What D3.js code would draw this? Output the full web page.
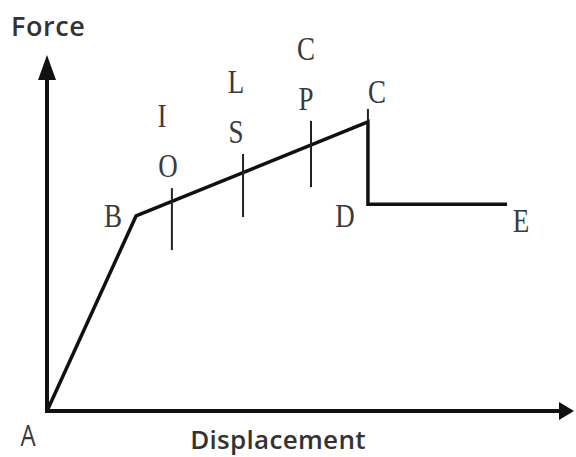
<!DOCTYPE html>
<html><head><meta charset="utf-8">
<script src="https://cdn.jsdelivr.net/npm/d3@7"></script>
<style>body{margin:0;background:#fff}svg{display:block}</style>
</head><body>
<script>
// Curve points (displacement, force) in arbitrary units
const pointNames = ["A", "B", "C", "D", "E"];
const displacement = [0, 16.9, 60.9, 60.9, 87.3];
const force = [0, 54.8, 81.2, 58.1, 58.1];
// performance-level markers on B–C branch
const levelNames = ["IO", "LS", "CP"];
const levelDisp = [23.7, 37.2, 50.1];
const levelTop = [62.6, 72.2, 81.5];
const levelBottom = [45.2, 54.5, 62.9];
const axisLabels = {x: "Displacement", y: "Force"};

const W = 576, H = 457;
const svg = d3.select("body").append("svg").attr("width", W).attr("height", H);
const x = d3.scaleLinear().domain([0, 100]).range([47, 574]);
const y = d3.scaleLinear().domain([0, 100]).range([411, 55]);

// axes with arrows
svg.append("line").attr("x1", x(0)).attr("y1", y(0)).attr("x2", x(0)).attr("y2", y(100) + 20)
  .attr("stroke", "#111").attr("stroke-width", 4);
svg.append("line").attr("x1", x(0) - 2).attr("y1", y(0)).attr("x2", x(100) - 12).attr("y2", y(0))
  .attr("stroke", "#111").attr("stroke-width", 4);
svg.append("path").attr("d", `M${x(0)},${y(100)} L${x(0)-9},${y(100)+25} L${x(0)+9},${y(100)+25}Z`).attr("fill", "#111");
svg.append("path").attr("d", `M${x(100)},${y(0)} L${x(100)-15},${y(0)-9} L${x(100)-15},${y(0)+9}Z`).attr("fill", "#111");

// curve
const pts = displacement.map((d, i) => [x(d), y(force[i])]);
svg.append("path").attr("d", d3.line()(pts)).attr("fill", "none")
  .attr("stroke", "#111").attr("stroke-width", 3.5).attr("stroke-linejoin", "miter");

// level ticks
levelNames.forEach((n, i) => {
  svg.append("line").attr("x1", x(levelDisp[i])).attr("x2", x(levelDisp[i]))
    .attr("y1", y(levelTop[i])).attr("y2", y(levelBottom[i]))
    .attr("stroke", "#222").attr("stroke-width", 2);
});
// tick at C
svg.append("line").attr("x1", x(displacement[2])).attr("x2", x(displacement[2]))
  .attr("y1", y(force[2]) - 13).attr("y2", y(force[2])).attr("stroke", "#222").attr("stroke-width", 2);

function serifLabel(t, px, py) {
  svg.append("text").attr("transform", `translate(${px},${py}) scale(1,1.25)`)
    .attr("text-anchor", "middle").attr("font-family", "Liberation Serif, Times New Roman, serif")
    .attr("font-size", 27).attr("fill", "#3a3a3a").text(t);
}
// point labels
serifLabel(pointNames[1], pts[1][0] - 23, pts[1][1] + 11);
serifLabel(pointNames[2], pts[2][0] + 9, pts[2][1] - 19);
serifLabel(pointNames[3], pts[3][0] - 23, pts[3][1] + 23);
serifLabel(pointNames[4], pts[4][0] + 14, pts[4][1] + 28);
// level labels stacked
const levelOffsets = [[-10, 0], [-7, 0], [-5, 0]];
levelNames.forEach((n, i) => {
  const tx = x(levelDisp[i]);
  const ty = y(levelTop[i]);
  serifLabel(n[0], tx + levelOffsets[i][0], ty - 61);
  serifLabel(n[1], tx + levelOffsets[i][0] + (i === 0 ? 6 : 0), ty - 11);
});

// A label
svg.append("text").attr("transform", `translate(28,446) scale(1,1.2)`).attr("text-anchor", "middle")
  .attr("font-family", "Open Sans, sans-serif").attr("font-size", 24).attr("fill", "#3a3a3a").text(pointNames[0]);

// axis titles
svg.append("text").attr("x", 11).attr("y", 36)
  .attr("font-family", "Open Sans, sans-serif").attr("font-weight", 600).attr("font-size", 27)
  .attr("letter-spacing", 0.6).attr("fill", "#333").text(axisLabels.y);
svg.append("text").attr("x", 278).attr("y", 449).attr("text-anchor", "middle")
  .attr("font-family", "Open Sans, sans-serif").attr("font-weight", 600).attr("font-size", 26)
  .attr("letter-spacing", 0.3).attr("fill", "#333").text(axisLabels.x);
</script>
</body></html>
